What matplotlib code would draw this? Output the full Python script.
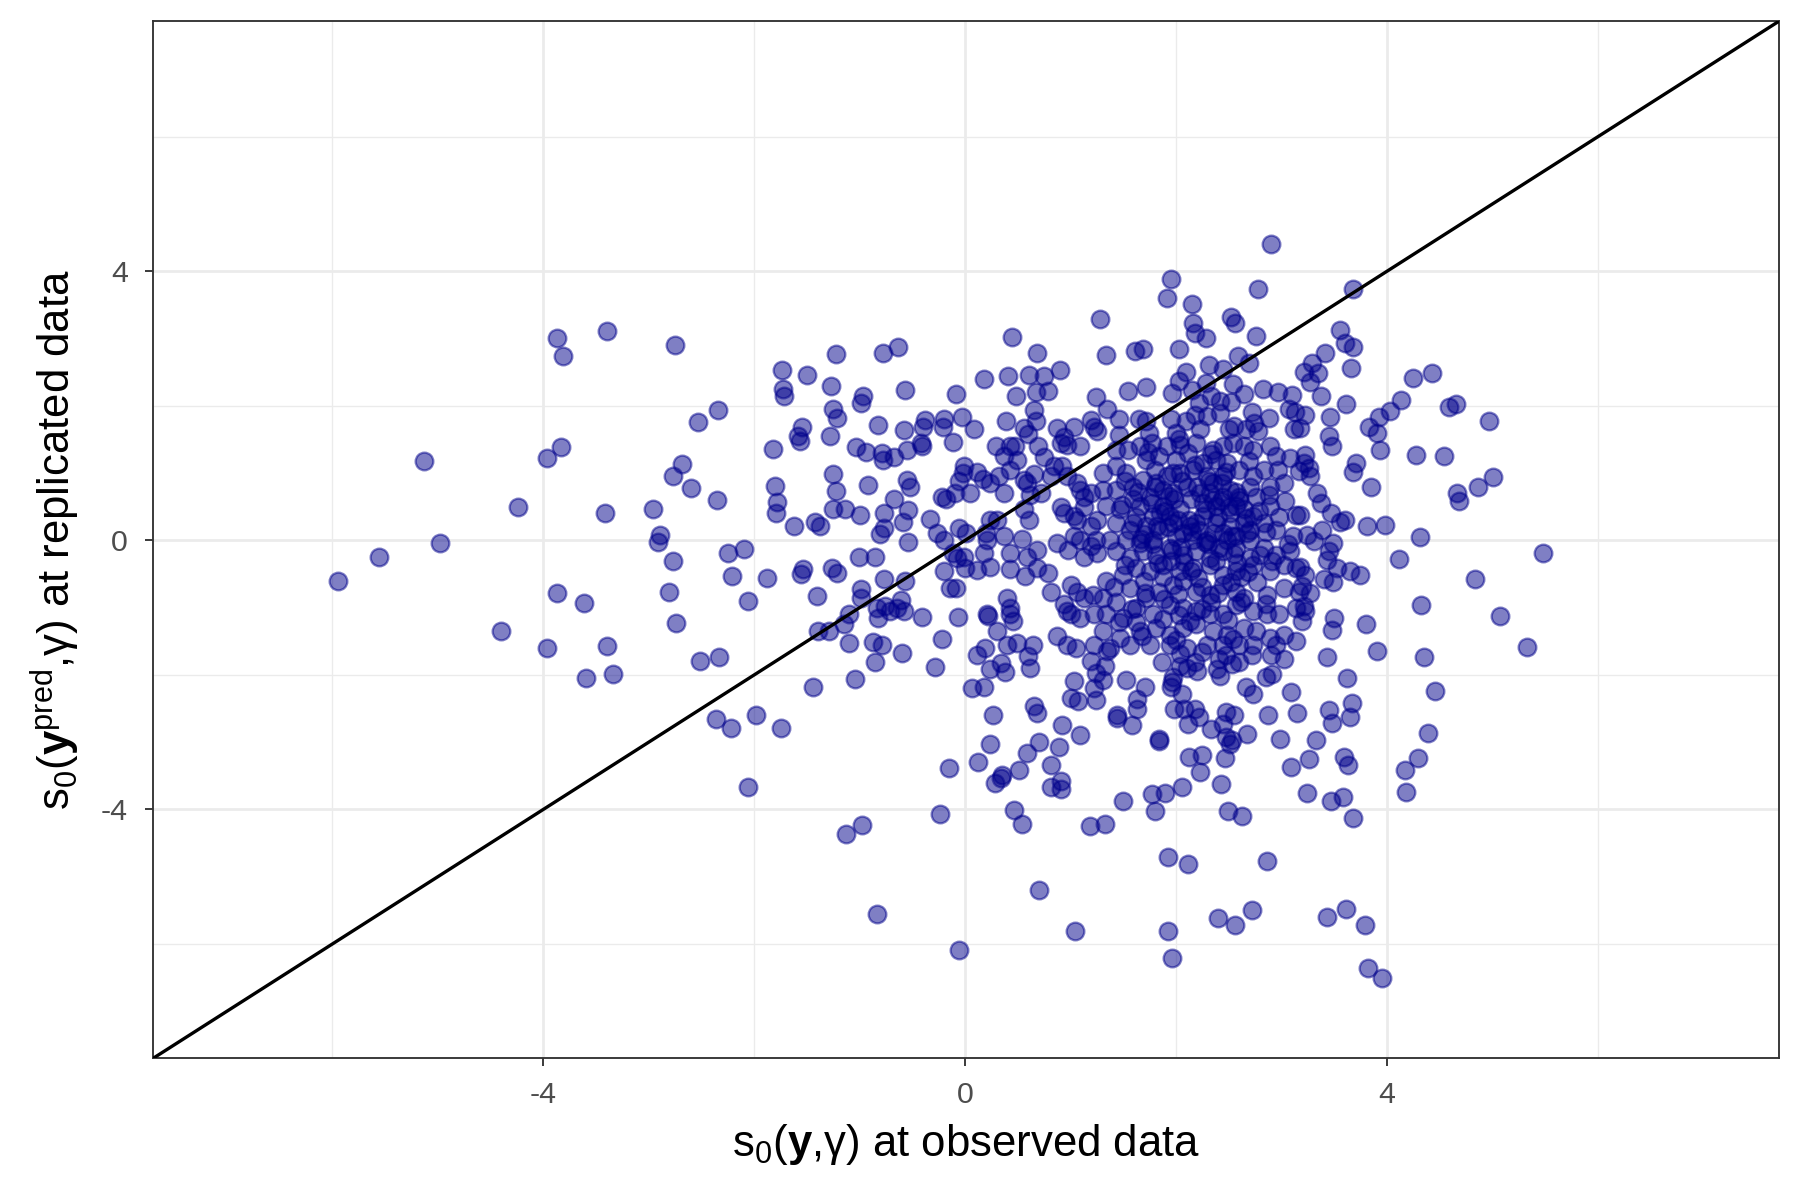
import numpy as np
import matplotlib
matplotlib.use("Agg")
import matplotlib.pyplot as plt

plt.rcParams['font.family'] = ['Liberation Sans', 'DejaVu Sans']
plt.rcParams['mathtext.fontset'] = 'custom'
plt.rcParams['mathtext.rm'] = 'Liberation Sans'
plt.rcParams['mathtext.it'] = 'Liberation Sans:italic'
plt.rcParams['mathtext.bf'] = 'Liberation Sans:bold'

# --- datos leidos del grafico (observado, replicado) ---
# zona izquierda
pts_izq = [(-3.87, 3.01), (-3.81, 2.74), (-3.40, 3.11), (-2.75, 2.91), (-1.74, 2.53), (-1.73, 2.25),
           (-1.715, 2.14), (-2.34, 1.94), (-2.535, 1.76), (-1.82, 1.36), (-3.835, 1.39), (-3.96, 1.22),
           (-5.13, 1.18), (-2.68, 1.14), (-2.77, 0.96), (-2.60, 0.78), (-2.35, 0.60), (-1.80, 0.81),
           (-1.785, 0.57), (-1.79, 0.40), (-1.62, 0.22), (-4.24, 0.495), (-3.41, 0.40), (-2.96, 0.47),
           (-2.89, 0.08), (-2.91, -0.02), (-4.98, -0.04), (-5.56, -0.24), (-5.95, -0.61), (-2.77, -0.30),
           (-2.25, -0.19), (-2.10, -0.13), (-2.21, -0.53), (-1.88, -0.56), (-2.81, -0.77), (-3.87, -0.78),
           (-3.61, -0.93), (-2.06, -0.90), (-2.74, -1.23), (-4.40, -1.35), (-3.96, -1.60), (-3.40, -1.57),
           (-2.51, -1.79), (-2.33, -1.74), (-3.59, -2.04), (-3.34, -1.98), (-2.36, -2.65), (-2.22, -2.79),
           (-1.98, -2.59), (-1.75, -2.79), (-2.06, -3.67)]

# zona central arriba
pts_centro_sup = [(0.446, 3.03), (0.68, 2.79), (-1.225, 2.77), (-0.78, 2.78), (-0.636, 2.88), (-1.50, 2.46),
                  (-1.27, 2.30), (-0.566, 2.24), (-0.97, 2.15), (-0.985, 2.04), (-0.09, 2.18), (0.18, 2.40),
                  (0.41, 2.45), (0.61, 2.46), (0.75, 2.44), (0.90, 2.53), (0.48, 2.14), (0.67, 2.20),
                  (0.785, 2.22), (1.24, 2.13), (0.65, 1.94), (-1.25, 1.95), (-1.215, 1.82), (-1.55, 1.68),
                  (-1.58, 1.55), (-1.57, 1.47), (-1.28, 1.55), (-0.83, 1.72), (-0.58, 1.64), (-0.38, 1.79),
                  (-0.40, 1.68), (-0.42, 1.45), (-0.41, 1.41), (-0.196, 1.80), (-0.03, 1.83), (-0.21, 1.69),
                  (0.08, 1.65), (-0.11, 1.46), (0.39, 1.78), (0.56, 1.67), (0.67, 1.77), (0.60, 1.58),
                  (-1.03, 1.39), (-0.94, 1.32), (-0.79, 1.30), (-0.78, 1.20), (-0.67, 1.24), (-0.55, 1.35),
                  (-1.25, 0.99), (-1.22, 0.73), (-0.92, 0.82), (-0.55, 0.90), (-0.52, 0.80), (-1.25, 0.46),
                  (-1.14, 0.46), (-1.0, 0.37), (-0.67, 0.62), (-0.54, 0.45), (-0.77, 0.41), (-0.59, 0.27),
                  (-0.77, 0.18), (-0.81, 0.09), (-1.42, 0.28), (-1.38, 0.22), (-0.54, -0.02), (-1.01, -0.24),
                  (-0.85, -0.24),
                  (-0.335, 0.32), (-0.27, 0.11), (-0.20, 0.0), (-0.06, 0.18), (0.01, 0.11), (-0.11, -0.19),
                  (-0.08, -0.26), (-0.01, -0.24), (-0.22, 0.64), (-0.185, 0.61), (-0.10, 0.70), (-0.06, 0.88),
                  (-0.013, 1.10), (-0.02, 1.0), (0.05, 0.70), (0.11, 1.01), (0.17, 0.91), (0.24, 0.85),
                  (0.37, 0.70), (0.32, 0.95), (0.29, 1.40), (0.37, 1.25), (0.43, 1.40), (0.47, 1.41),
                  (0.49, 1.20), (0.43, 1.05), (0.56, 0.90), (0.65, 0.98), (0.69, 1.40), (0.75, 1.24),
                  (0.59, 0.85), (0.715, 0.70), (0.62, 0.68), (0.56, 0.46), (0.61, 0.31), (0.30, 0.31),
                  (0.24, 0.31), (0.20, 0.11), (0.21, 0.01), (0.37, 0.06), (0.54, 0.02), (0.43, -0.19),
                  (0.18, -0.19), (0.87, 1.67), (0.94, 1.54), (1.03, 1.69), (0.91, 1.45), (0.97, 1.42),
                  (1.09, 1.40), (1.19, 1.79), (1.22, 1.69), (1.25, 1.62), (0.84, 1.10), (0.92, 1.10),
                  (0.97, 0.95), (0.81, 0.95), (1.06, 0.85), (1.09, 0.75), (1.13, 0.65), (1.19, 0.70),
                  (1.13, 0.50), (1.03, 0.36), (1.06, 0.31), (0.905, 0.50), (0.94, 0.41), (1.19, 0.21),
                  (1.25, 0.31), (0.87, -0.04), (1.03, 0.06), (1.09, 0.01), (1.19, -0.09), (1.13, -0.24),
                  (1.25, -0.19), (0.68, -0.14), (0.59, -0.24), (0.98, -0.14)]

# zona central abajo
pts_centro_inf = [(-1.54, -0.43), (-1.56, -0.50), (-1.26, -0.41), (-1.21, -0.48), (-1.40, -0.82), (-0.99, -0.73),
                  (-0.99, -0.86), (-0.77, -0.57), (-0.57, -0.61), (-0.61, -0.88), (-0.84, -1.00), (-0.76, -0.98),
                  (-0.71, -1.05), (-0.65, -1.0), (-0.58, -1.05), (-0.83, -1.15), (-1.10, -1.10), (-1.15, -1.25),
                  (-1.39, -1.34), (-1.29, -1.34), (-1.10, -1.53), (-0.87, -1.51), (-0.79, -1.55), (-0.85, -1.81),
                  (-0.60, -1.68), (-0.41, -1.14), (-0.22, -1.47), (-0.29, -1.88), (-1.44, -2.18), (-1.04, -2.06),
                  (-0.20, -0.46), (-0.14, -0.71), (-0.09, -0.71), (-0.066, -1.14), (0.0, -0.41), (0.11, -0.44),
                  (0.24, -0.39), (0.21, -1.10), (0.22, -1.13), (0.30, -1.35), (0.40, -0.86), (0.43, -1.0),
                  (0.43, -1.1), (0.45, -1.2), (0.40, -1.55), (0.49, -1.52), (0.11, -1.70), (0.19, -1.60),
                  (0.24, -1.91), (0.34, -1.82), (0.38, -1.95), (0.07, -2.2), (0.18, -2.18), (0.64, -1.55),
                  (0.60, -1.72), (0.62, -1.90), (0.57, -0.53), (0.43, -0.43), (0.68, -0.41), (0.79, -0.48),
                  (0.81, -0.76), (0.87, -1.42), (0.97, -1.55), (1.05, -1.6), (0.94, -0.95), (0.97, -1.05),
                  (1.0, -1.10), (1.09, -1.15), (1.0, -0.66), (1.06, -0.76), (1.13, -0.86), (1.21, -0.81),
                  (1.22, -1.1), (1.19, -1.80), (1.24, -1.97), (1.22, -1.55), (1.03, -2.09), (1.0, -2.34),
                  (1.07, -2.39), (1.24, -2.37), (1.22, -2.19), (0.26, -2.60), (0.235, -3.02), (0.12, -3.29),
                  (-0.15, -3.38), (0.65, -2.46), (0.68, -2.56), (0.92, -2.74), (1.09, -2.89), (0.70, -2.99),
                  (0.59, -3.16), (0.89, -3.07), (0.81, -3.34), (0.51, -3.42), (0.35, -3.49), (0.28, -3.6),
                  (0.34, -3.53), (0.81, -3.67), (0.905, -3.57), (0.91, -3.70), (0.46, -4.01), (0.54, -4.21),
                  (-0.24, -4.07), (-1.13, -4.36), (-0.98, -4.23), (1.18, -4.25), (0.70, -5.19), (-0.84, -5.55),
                  (1.04, -5.81), (-0.06, -6.09)]

# nucleo arriba
pts_nucleo_sup = [(2.90, 4.41), (1.95, 3.89), (1.91, 3.60), (2.78, 3.73), (2.15, 3.52), (1.28, 3.29),
                  (2.16, 3.23), (2.18, 3.08), (2.28, 3.01), (2.52, 3.32), (2.56, 3.23), (2.76, 3.04),
                  (1.34, 2.75), (1.61, 2.81), (1.69, 2.85), (2.03, 2.84), (2.59, 2.74), (2.69, 2.63),
                  (2.31, 2.60), (2.09, 2.51), (2.03, 2.37), (2.45, 2.54), (2.54, 2.33), (1.54, 2.22),
                  (1.72, 2.28), (1.96, 2.19), (2.15, 2.24), (2.28, 2.34), (2.33, 2.14), (2.42, 2.07),
                  (2.52, 2.05), (2.64, 2.17), (2.82, 2.25), (2.97, 2.20), (3.10, 2.16), (3.07, 1.95),
                  (3.13, 1.91), (3.12, 1.66), (2.88, 1.82), (2.72, 1.91), (2.74, 1.75), (2.29, 1.85),
                  (2.42, 1.90), (2.22, 2.04), (1.35, 1.95), (1.46, 1.81), (1.65, 1.80), (1.72, 1.77),
                  (1.95, 1.80), (2.09, 1.77), (2.18, 1.87), (2.50, 1.65), (2.55, 1.70), (2.66, 1.65),
                  (2.78, 1.62), (1.74, 1.60), (1.46, 1.57), (2.0, 1.60), (2.23, 1.65), (2.03, 1.50),
                  (3.68, 3.73)]

# nucleo medio
pts_nucleo_med = [(1.43, 1.35), (1.54, 1.35), (1.66, 1.40), (1.77, 1.45), (1.91, 1.40), (2.04, 1.42),
                  (2.19, 1.45), (2.35, 1.35), (2.45, 1.40), (2.54, 1.45), (2.64, 1.40), (2.73, 1.35),
                  (2.89, 1.40), (3.08, 1.22), (3.17, 1.03), (2.97, 1.05), (2.83, 1.05), (2.73, 0.95),
                  (2.60, 1.05), (2.48, 1.15), (2.38, 1.20), (2.26, 1.15), (2.16, 1.05), (2.04, 1.00),
                  (1.91, 0.95), (1.80, 1.05), (1.72, 1.20), (1.59, 0.80), (1.43, 0.75), (1.31, 0.75),
                  (1.34, 0.51), (1.47, 0.46), (1.59, 0.61), (1.75, 0.65), (1.88, 0.51), (2.04, 0.46),
                  (1.97, 0.26), (2.13, 0.21), (2.26, 0.36), (2.38, 0.51), (2.51, 0.41), (2.64, 0.26),
                  (2.73, 0.36), (2.76, 0.65), (2.89, 0.51), (3.03, 0.58), (3.14, 0.38), (3.11, 0.06),
                  (2.95, 0.16), (2.83, 0.26), (2.70, 0.01), (2.57, 0.06), (2.45, 0.11), (2.29, 0.01),
                  (2.16, 0.01), (2.07, 0.11), (1.84, 0.16), (1.72, 0.21), (1.59, 0.26), (1.43, 0.26),
                  (1.24, 0.01), (1.37, 0.01), (1.53, 0.01), (1.66, -0.04), (1.78, 0.01), (2.51, 0.75),
                  (2.35, 0.85), (2.23, 0.70), (2.10, 0.80), (1.88, 0.75), (2.60, 0.65), (2.89, 0.80),
                  (3.02, 0.85), (2.70, 0.80), (2.45, 0.95), (2.29, 0.95), (2.00, 1.20), (1.84, 1.25),
                  (1.43, 1.10), (1.31, 1.00), (2.95, 1.25),
                  (2.26, 0.56), (2.38, 0.26), (2.51, 0.21), (2.35, 0.11), (2.57, 0.51), (2.19, 0.26),
                  (2.45, 0.65), (2.32, 0.70), (2.64, 0.46), (2.67, 0.11), (1.69, 0.90), (1.81, 0.85),
                  (1.97, 0.70), (1.66, 0.51), (1.94, 0.36), (1.78, 0.36), (1.53, 1.00), (1.97, 1.00),
                  (1.85, 0.40), (1.92, 0.20), (2.00, 0.05), (2.05, -0.10), (1.78, -0.05), (1.70, 0.10),
                  (1.95, -0.30), (2.12, 0.30), (2.22, 0.15), (2.30, -0.05), (2.40, 0.35), (2.48, 0.00),
                  (2.55, -0.20), (2.35, 0.60), (2.20, 0.80), (2.44, 0.85), (2.60, 0.60), (1.88, -0.55),
                  (2.02, -0.80), (1.70, -0.60), (2.25, -0.70), (2.38, -0.30), (2.62, -0.55), (1.62, 0.35),
                  (1.98, 0.62), (2.50, 0.50), (2.14, -0.45), (1.80, 0.80), (2.70, 0.15), (2.28, 0.45)]

# nucleo: puntos solapados en la parte mas oscura
pts_nucleo_denso = [(1.52, 0.88), (1.64, 0.72), (1.77, 0.55), (1.90, 0.43), (2.02, 0.30), (2.15, 0.12),
                    (2.27, -0.02), (2.41, -0.12), (2.53, 0.06), (2.66, 0.33), (2.79, 0.44), (2.85, 0.12),
                    (2.91, -0.30), (2.77, -0.62), (2.62, -0.91), (2.49, -1.18), (2.33, -0.92), (2.21, -0.56),
                    (2.08, -0.32), (1.96, -0.14), (1.83, -0.34), (1.71, -0.78), (1.58, -1.02), (1.46, -1.21),
                    (1.62, -1.22), (1.88, -1.17), (2.13, -1.20), (2.40, -0.78), (2.52, -0.62), (2.68, -0.47),
                    (2.80, -0.22), (2.57, 0.72), (2.47, 1.02), (2.33, 1.28), (2.18, 1.12), (2.06, 0.88),
                    (1.93, 0.66), (1.82, 0.22), (1.67, 0.02), (1.52, -0.36), (1.41, -0.70), (1.49, 0.53),
                    (1.56, 0.15), (1.89, -0.87), (2.03, -1.11), (2.25, -1.02), (2.58, -0.33), (2.43, 0.58),
                    (2.31, 0.88), (2.14, 0.62), (2.98, 0.35), (3.06, -0.05), (2.88, 0.68), (1.73, 1.32),
                    (2.11, 1.30), (2.69, 1.18), (1.68, -1.42), (2.00, -1.48), (2.54, -1.46), (2.85, -0.95)]

# nucleo abajo
pts_nucleo_inf = [(1.43, -0.16), (1.56, -0.26), (1.69, -0.16), (1.81, -0.21), (1.94, -0.11), (2.07, -0.21),
                  (2.19, -0.16), (2.32, -0.26), (2.45, -0.16), (2.57, -0.11), (2.70, -0.26), (2.83, -0.11),
                  (2.95, -0.21), (3.08, -0.16), (1.34, -0.61), (1.50, -0.51), (1.62, -0.41), (1.75, -0.46),
                  (1.88, -0.36), (2.04, -0.46), (2.16, -0.41), (2.32, -0.36), (2.45, -0.51), (2.57, -0.46),
                  (2.73, -0.36), (2.89, -0.46), (3.02, -0.36), (3.14, -0.41), (1.31, -0.86), (1.43, -0.91),
                  (1.56, -0.71), (1.72, -0.86), (1.84, -0.76), (1.97, -0.66), (2.07, -0.61), (2.19, -0.76),
                  (2.32, -0.81), (2.45, -0.66), (2.57, -0.76), (2.64, -0.86), (2.86, -0.81), (3.02, -0.71),
                  (3.17, -0.76), (1.34, -1.10), (1.50, -1.15), (1.62, -1.005), (1.78, -1.10), (1.94, -0.955),
                  (2.07, -1.005), (2.19, -1.05), (2.32, -1.10), (2.45, -1.10), (2.57, -0.955), (2.73, -1.05),
                  (2.86, -1.10), (2.98, -1.10), (3.14, -1.005), (1.31, -1.35), (1.47, -1.45), (1.66, -1.35),
                  (1.81, -1.30), (1.94, -1.40), (2.07, -1.30), (2.19, -1.25), (2.35, -1.35), (2.48, -1.40),
                  (2.64, -1.30), (2.76, -1.35), (2.89, -1.45), (3.02, -1.40), (3.14, -1.50), (1.37, -1.60),
                  (1.56, -1.55), (1.75, -1.55), (1.94, -1.55), (2.10, -1.60), (2.29, -1.55), (2.45, -1.55),
                  (2.60, -1.55), (2.73, -1.55), (2.95, -1.55),
                  (2.04, -1.69), (2.18, -1.81), (2.25, -1.66), (2.41, -1.76), (2.47, -1.71), (2.53, -1.84),
                  (2.60, -1.81), (2.72, -1.71), (2.90, -1.71), (3.02, -1.76), (2.04, -1.86), (2.10, -1.89),
                  (2.20, -1.94), (2.39, -1.91), (2.42, -2.01), (1.33, -1.86), (1.35, -1.64),
                  (1.87, -1.81), (1.53, -2.08), (1.71, -2.18), (1.63, -2.36), (1.63, -2.50), (1.44, -2.60),
                  (1.44, -2.64), (1.58, -2.74), (1.31, -2.08), (1.96, -2.11), (1.95, -2.18), (1.97, -2.03),
                  (2.06, -2.28), (1.98, -2.50), (2.08, -2.50), (2.11, -2.73), (2.18, -2.50), (2.22, -2.63),
                  (1.84, -2.95), (1.84, -2.98), (2.33, -2.80), (2.47, -2.55), (2.55, -2.60), (2.45, -2.73),
                  (2.47, -2.93), (2.51, -3.02), (2.53, -2.97), (2.67, -2.88), (2.66, -2.18), (2.73, -2.28),
                  (2.87, -2.60), (2.85, -2.03), (2.91, -1.99), (3.09, -2.25), (3.15, -2.56), (2.99, -2.95),
                  (3.09, -3.37), (2.12, -3.22), (2.25, -3.19), (2.23, -3.44), (2.46, -3.24), (2.43, -3.62),
                  (2.06, -3.67), (1.77, -3.77), (1.90, -3.75), (1.50, -3.87), (1.80, -4.03), (2.49, -4.02),
                  (2.63, -4.09), (1.33, -4.22), (1.92, -4.71), (2.11, -4.81), (2.86, -4.76), (2.40, -5.61),
                  (2.56, -5.71), (2.72, -5.50), (1.92, -5.80), (1.96, -6.21)]

# zona derecha
pts_der = [(3.55, 3.13), (3.60, 2.93), (3.68, 2.88), (3.41, 2.78), (3.29, 2.63), (3.21, 2.51), (3.35, 2.49),
           (3.27, 2.36), (3.66, 2.56), (3.37, 2.15), (3.61, 2.03), (4.25, 2.41), (4.43, 2.49), (4.13, 2.09),
           (4.03, 1.92), (3.92, 1.84), (3.83, 1.68), (3.91, 1.60), (4.59, 1.98), (4.65, 2.03), (4.97, 1.78),
           (3.22, 1.87), (3.18, 1.67), (3.46, 1.83), (3.45, 1.55), (3.48, 1.40), (3.93, 1.34), (4.28, 1.27),
           (4.54, 1.26), (3.22, 1.27), (3.21, 1.15), (3.26, 1.07), (3.27, 0.95), (3.71, 1.15), (3.68, 1.02),
           (3.85, 0.79), (4.66, 0.71), (4.68, 0.59), (4.86, 0.79), (5.01, 0.94), (3.34, 0.70), (3.37, 0.55),
           (3.47, 0.41), (3.55, 0.28), (3.60, 0.31), (3.18, 0.38), (3.81, 0.22), (3.98, 0.23), (3.38, 0.15),
           (3.24, 0.08), (3.31, -0.01), (3.49, -0.04), (3.45, -0.16), (3.43, -0.29), (4.31, 0.05),
           (4.11, -0.27), (5.48, -0.19), (3.53, -0.41), (3.65, -0.46), (3.74, -0.51), (3.22, -0.51),
           (3.40, -0.58), (3.49, -0.62), (3.18, -0.39), (3.19, -0.68), (3.27, -0.78), (4.83, -0.57),
           (4.32, -0.96), (5.07, -1.13), (3.21, -0.98), (3.22, -1.05), (3.19, -1.20), (3.50, -1.15),
           (3.48, -1.33), (3.80, -1.24),
           (5.33, -1.59), (3.43, -1.73), (3.91, -1.65), (4.35, -1.74), (3.62, -2.04), (4.46, -2.24),
           (3.67, -2.41), (3.45, -2.52), (3.65, -2.62), (3.48, -2.72), (3.33, -2.97), (4.39, -2.87),
           (3.26, -3.25), (3.59, -3.22), (3.63, -3.34), (4.29, -3.23), (4.17, -3.42), (4.18, -3.74),
           (3.24, -3.76), (3.47, -3.87), (3.58, -3.81), (3.68, -4.13), (3.43, -5.60), (3.61, -5.48),
           (3.79, -5.71), (3.82, -6.36), (3.95, -6.50)]

regiones = [pts_izq, pts_centro_sup, pts_centro_inf, pts_nucleo_sup, pts_nucleo_med,
            pts_nucleo_denso, pts_nucleo_inf, pts_der]
datos = np.array([p for r in regiones for p in r])
obs = datos[:, 0]
rep = datos[:, 1]

lims = (-7.7, 7.72)

fig = plt.figure(figsize=(12, 8), dpi=150)
ax = fig.add_axes([0.085, 0.118, 0.9035, 0.8645])

# lineas de la cuadricula estilo theme_bw
ax.set_axisbelow(True)
ax.set_xticks([-4, 0, 4])
ax.set_yticks([-4, 0, 4])
ax.set_xticks([-6, -2, 2, 6], minor=True)
ax.set_yticks([-6, -2, 2, 6], minor=True)
ax.grid(True, which='major', color='#EBEBEB', linewidth=1.3)
ax.grid(True, which='minor', color='#EBEBEB', linewidth=0.65)

ax.scatter(obs, rep, s=72, color='#00008B', alpha=0.5, linewidths=1.1, zorder=3)
ax.axline((0, 0), slope=1, color='black', linewidth=1.6, zorder=4)

ax.set_xlim(lims)
ax.set_ylim(lims)

ax.set_xticklabels(['-4', '0', '4'])
ax.set_yticklabels(['-4', '0', '4'])
ax.tick_params(which='major', length=4, width=0.9, color='#333333', labelsize=14.5,
               labelcolor='#4D4D4D')
ax.tick_params(axis='x', which='major', pad=7)
ax.tick_params(axis='y', which='major', pad=8)
ax.tick_params(which='minor', length=0)

for s in ax.spines.values():
    s.set_color('#333333')
    s.set_linewidth(0.9)

ax.set_xlabel(r'$\mathrm{s}_0(\mathbf{y}{,}\mathrm{γ})$ at observed data', fontsize=21, labelpad=6)
ax.set_ylabel(r'$\mathrm{s}_0(\mathbf{y}^{\mathrm{pred}}{,}\mathrm{γ})$ at replicated data', fontsize=21, labelpad=9)

fig.savefig('out.png', dpi=150)
